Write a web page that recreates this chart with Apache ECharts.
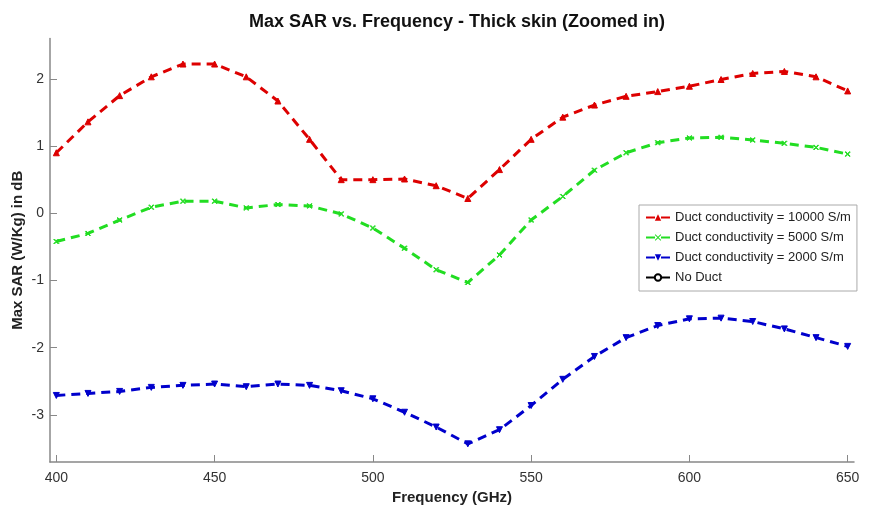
<!DOCTYPE html>
<html>
<head>
<meta charset="utf-8">
<script src="https://cdn.jsdelivr.net/npm/echarts@6/dist/echarts.min.js"></script>
<style>html,body{margin:0;padding:0;background:#fff}#c{width:869px;height:510px}</style>
</head>
<body>
<div id="c"></div>
<script>
const freq = [400,410,420,430,440,450,460,470,480,490,500,510,520,530,540,550,560,570,580,590,600,610,620,630,640,650];
const duct10000 = [0.90,1.36,1.75,2.03,2.22,2.22,2.03,1.67,1.10,0.50,0.50,0.51,0.41,0.22,0.65,1.10,1.43,1.61,1.74,1.81,1.89,1.99,2.08,2.11,2.03,1.82];
const duct5000 = [-0.42,-0.30,-0.10,0.09,0.18,0.18,0.08,0.13,0.11,-0.01,-0.22,-0.52,-0.84,-1.03,-0.62,-0.10,0.25,0.64,0.90,1.05,1.12,1.13,1.09,1.04,0.98,0.88];
const duct2000 = [-2.71,-2.68,-2.65,-2.59,-2.56,-2.54,-2.58,-2.54,-2.56,-2.64,-2.76,-2.96,-3.18,-3.43,-3.22,-2.86,-2.47,-2.13,-1.85,-1.67,-1.57,-1.56,-1.61,-1.72,-1.85,-1.98];
const noDuct = [];
const xTicks = [400,450,500,550,600,650];
const yTicks = [-3,-2,-1,0,1,2];
const names = ['Duct conductivity = 10000 S/m','Duct conductivity = 5000 S/m','Duct conductivity = 2000 S/m','No Duct'];

const pair = arr => arr.map((v,i)=>[freq[i], v]);
const FONT = 'Liberation Sans, Arial, sans-serif';
const xSym = 'path://M0,1L1,0L5,4L9,0L10,1L6,5L10,9L9,10L5,6L1,10L0,9L4,5Z';

function mk(name, data, color, symbol, size, rot) {
  return {
    name, type: 'line', data: pair(data),
    symbol, symbolSize: size, symbolRotate: rot || 0,
    showSymbol: true, smooth: false,
    lineStyle: {color, width: 3, type: [9,6]},
    itemStyle: {color, borderColor: color},
    emphasis: {disabled: true}, animation: false
  };
}

const chart = echarts.init(document.getElementById('c'), null, {renderer: 'canvas'});
chart.setOption({
  animation: false,
  backgroundColor: '#fff',
  title: {
    text: 'Max SAR vs. Frequency - Thick skin (Zoomed in)',
    left: 452, top: 8, textAlign: 'center',
    textStyle: {fontFamily: FONT, fontSize: 18, fontWeight: 'bold', color: '#111'}
  },
  grid: {left: 50, right: 15, top: 38.5, bottom: 48, containLabel: false, outerBoundsMode: 'none'},
  xAxis: {
    type: 'value', min: 398, max: 652,
    name: 'Frequency (GHz)', nameLocation: 'middle', nameGap: 27,
    nameTextStyle: {fontFamily: FONT, fontSize: 15, fontWeight: 'bold', color: '#222'},
    axisLine: {show: true, onZero: false, lineStyle: {color: '#888', width: 1.5}},
    axisTick: {show: true, inside: true, length: 7, customValues: xTicks, lineStyle: {color: '#888'}},
    axisLabel: {customValues: xTicks, margin: 9, fontFamily: FONT, fontSize: 14, color: '#333'},
    splitLine: {show: false}
  },
  yAxis: {
    type: 'value', min: -3.7, max: 2.6,
    name: 'Max SAR (W/Kg) in dB', nameLocation: 'middle', nameGap: 25, nameMoveOverlap: false,
    nameTextStyle: {fontFamily: FONT, fontSize: 15, fontWeight: 'bold', color: '#222'},
    axisLine: {show: true, onZero: false, lineStyle: {color: '#888', width: 1.5}},
    axisTick: {show: true, inside: true, length: 7, customValues: yTicks, lineStyle: {color: '#888'}},
    axisLabel: {customValues: yTicks, margin: 6, fontFamily: FONT, fontSize: 14, color: '#333'},
    splitLine: {show: false}
  },
  legend: {
    orient: 'vertical', left: 639, top: 205,
    backgroundColor: '#fff', borderColor: '#aaa', borderWidth: 1,
    padding: [6, 6, 7, 6], itemGap: 7, itemWidth: 24, itemHeight: 8,
    textStyle: {fontFamily: FONT, fontSize: 13, color: '#222'},
    data: names
  },
  series: [
    mk(names[0], duct10000, '#dd0000', 'triangle', 6),
    mk(names[1], duct5000, '#22dd22', xSym, 5),
    mk(names[2], duct2000, '#0000cc', 'triangle', 6, 180),
    mk(names[3], noDuct, '#000000', 'emptyCircle', 5)
  ]
});
</script>
</body>
</html>
